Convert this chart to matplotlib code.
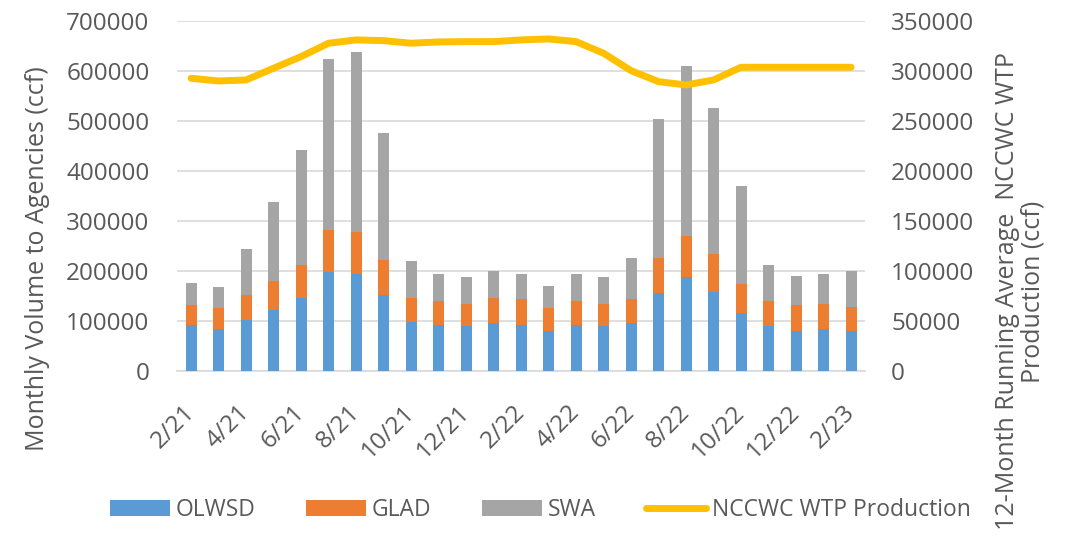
import numpy as np
from matplotlib import pyplot as plt

months = ['2/21', '3/21', '4/21', '5/21', '6/21', '7/21', '8/21', '9/21', '10/21',
          '11/21', '12/21', '1/22', '2/22', '3/22', '4/22', '5/22', '6/22', '7/22',
          '8/22', '9/22', '10/22', '11/22', '12/22', '1/23', '2/23']
olwsd = [93000, 84000, 102000, 123000, 147000, 198000, 195000, 153000, 99000,
         93000, 90000, 96000, 93000, 81000, 93000, 90000, 96000, 156000,
         189000, 159000, 117000, 90000, 81000, 84000, 81000]
glad = [39000, 42000, 51000, 57000, 66000, 84000, 84000, 69000, 48000,
        48000, 45000, 51000, 51000, 45000, 48000, 45000, 48000, 71000,
        81000, 75000, 57000, 51000, 51000, 51000, 47000]
swa = [45000, 42000, 92000, 159000, 230000, 341000, 359000, 254000, 74000,
       54000, 54000, 53000, 51000, 45000, 54000, 54000, 83000, 277000,
       339000, 291000, 197000, 72000, 59000, 60000, 72000]
wtp = [292700, 290000, 291000, 302700, 314300, 327700, 331000, 330300, 327700,
       329000, 329300, 329300, 331000, 332000, 329300, 317700, 300300, 289300,
       286000, 291000, 303700, 303700, 303700, 303700, 303700]

txt = '#595959'
plt.rcParams['font.family'] = ['Open Sans', 'DejaVu Sans']

fig = plt.figure(figsize=(10.81, 5.5), dpi=100)
ax = fig.add_axes([0.164, 0.325, 0.636, 0.637])
x = np.arange(len(months))
w = 0.4
b1 = ax.bar(x, olwsd, w, color='#5B9BD5', label='OLWSD', zorder=3)
b2 = ax.bar(x, glad, w, bottom=olwsd, color='#ED7D31', label='GLAD', zorder=3)
bot = np.array(olwsd) + np.array(glad)
b3 = ax.bar(x, swa, w, bottom=bot, color='#A5A5A5', label='SWA', zorder=3)

ax.set_ylim(0, 700000)
ax.set_yticks(np.arange(0, 700001, 100000))
ax.set_xlim(-0.5, len(months) - 0.5)
ax.grid(axis='y', color='#d9d9d9', linewidth=1.2, zorder=0)
for s in ['top', 'right', 'left']:
    ax.spines[s].set_visible(False)
ax.spines['bottom'].set_color('#d9d9d9')
ax.spines['bottom'].set_linewidth(1.2)
ax.set_xticks(x[::2])
ax.set_xticklabels(months[::2], rotation=45, ha='right', va='center',
                   rotation_mode='anchor')
ax.tick_params(axis='y', length=0, labelsize=17.5, colors=txt, pad=20)
ax.tick_params(axis='x', length=0, labelsize=17.5, colors=txt, pad=27)
fig.text(38 / 1081, 0.53, 'Monthly Volume to Agencies (ccf)', rotation=90,
         ha='center', va='center', fontsize=18, color=txt)

ax2 = ax.twinx()
ln, = ax2.plot(x, wtp, color='#FFC000', linewidth=5, solid_capstyle='round',
               label='NCCWC WTP Production', zorder=4)
ax2.set_ylim(0, 350000)
ax2.set_yticks(np.arange(0, 350001, 50000))
for s in ['top', 'right', 'left', 'bottom']:
    ax2.spines[s].set_visible(False)
ax2.tick_params(axis='y', length=0, labelsize=17.5, colors=txt, pad=19)
fig.text(1020 / 1081, 0.47, '12-Month Running Average  NCCWC WTP\nProduction (ccf)',
         rotation=90, ha='center', va='center', multialignment='center',
         fontsize=18, color=txt, linespacing=1.0)

fig.legend(handles=[b1, b2, b3, ln], loc='center', bbox_to_anchor=(0.5, 0.072), ncol=4,
           frameon=False, fontsize=16.5, labelcolor=txt, handlelength=2.6,
           columnspacing=2.2, handletextpad=0.27)

plt.savefig('out.png', dpi=100)
